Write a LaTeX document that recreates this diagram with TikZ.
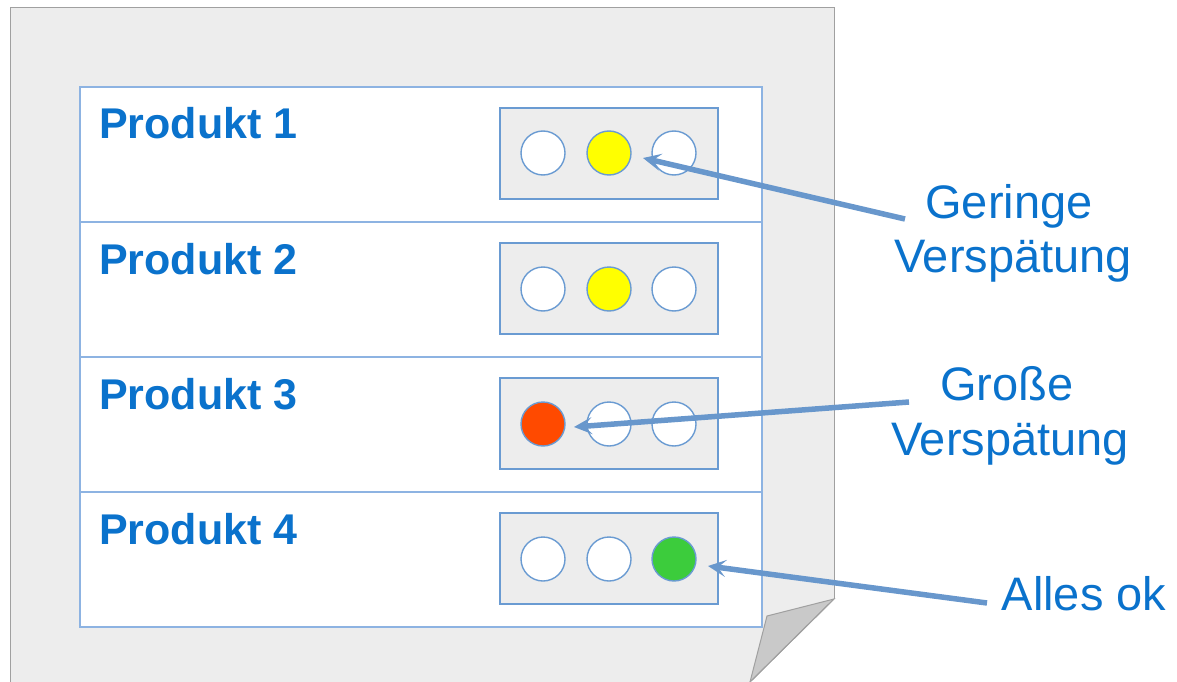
\documentclass[tikz,border=0pt]{standalone}
\usepackage{fontspec}
\setmainfont{Liberation Sans}
\usetikzlibrary{arrows.meta}
\definecolor{txtblue}{HTML}{0A72CC}
\definecolor{arrblue}{HTML}{6897CC}
\definecolor{lineblue}{HTML}{8DB3E2}
\definecolor{boxblue}{HTML}{6A9BD2}
\definecolor{pagefill}{HTML}{EDEDED}
\definecolor{pageline}{HTML}{A0A0A0}
\definecolor{foldfill}{HTML}{C9C9C9}
\definecolor{lampyellow}{HTML}{FFFF00}
\definecolor{lampred}{HTML}{FF4A00}
\definecolor{lampgreen}{HTML}{3CCC3C}
\tikzset{
  prod/.style={anchor=base west, text=txtblue, inner sep=0pt, font=\fontsize{43}{50}\selectfont\bfseries},
  lbl/.style={anchor=base, text=txtblue, inner sep=0pt, font=\fontsize{47}{54}\selectfont},
  lampbox/.style={draw=boxblue, line width=1.6pt, fill=pagefill},
  lamp/.style={circle, draw=boxblue, line width=1.4pt, minimum size=44pt, inner sep=0pt, fill=white},
  pointer/.style={draw=arrblue, line width=5.5pt, -{Stealth[length=18pt,width=17pt,inset=8pt]}},
}
\begin{document}
\begin{tikzpicture}[x=1pt,y=-1pt]
\useasboundingbox (0,0) rectangle (1177,682);
% page
\fill[pagefill] (10,8) -- (834,8) -- (834,599) -- (750,682) -- (10,682) -- cycle;
\draw[pageline, line width=1pt] (10,682) -- (10,8) -- (834,8) -- (834,599);
\filldraw[fill=foldfill, draw=pageline, line width=1pt] (834,599) -- (767,616) -- (750,682) -- cycle;
\draw[pageline, line width=1pt] (834,599) -- (750,682);
% table
\filldraw[fill=white, draw=lineblue, line width=1.2pt] (80,87) rectangle (762,627);
\foreach \yy in {222,357,492} \draw[lineblue, line width=1.2pt] (80,\yy) -- (762,\yy);
% products
\node[prod] (p1) at (99,139) {Produkt 1};
\node[prod] (p2) at (99,274) {Produkt 2};
\node[prod] (p3) at (99,409) {Produkt 3};
\node[prod] (p4) at (99,544) {Produkt 4};
% lamp boxes
\foreach \i/\yy in {1/108,2/243,3/378,4/513}
  \draw[lampbox] (500,\yy) rectangle (718,\yy+91);
% lamps
\node[lamp] (c11) at (543,153) {};
\node[lamp, fill=lampyellow] (c12) at (609,153) {};
\node[lamp] (c13) at (674,153) {};
\node[lamp] (c21) at (543,289) {};
\node[lamp, fill=lampyellow] (c22) at (609,289) {};
\node[lamp] (c23) at (674,289) {};
\node[lamp, fill=lampred] (c31) at (543,424) {};
\node[lamp] (c32) at (609,424) {};
\node[lamp] (c33) at (674,424) {};
\node[lamp] (c41) at (543,559) {};
\node[lamp] (c42) at (609,559) {};
\node[lamp, fill=lampgreen] (c43) at (674,559) {};
% labels
\node[lbl] (g1) at (1009,218) {Geringe};
\node[lbl] (g2) at (1013,272) {Verspätung};
\node[lbl] (h1) at (1007,400) {Große};
\node[lbl] (h2) at (1010,455) {Verspätung};
\node[lbl] (ok) at (1084,610) {Alles ok};
% arrows
\coordinate (t1) at (905,219);
\coordinate (e1) at (643,158);
\coordinate (t2) at (909,402);
\coordinate (e2) at (574,427);
\coordinate (t3) at (987,603);
\coordinate (e3) at (708,566);
\draw[pointer] (t1) -- (e1);
\draw[pointer] (t2) -- (e2);
\draw[pointer] (t3) -- (e3);
\end{tikzpicture}
\end{document}
